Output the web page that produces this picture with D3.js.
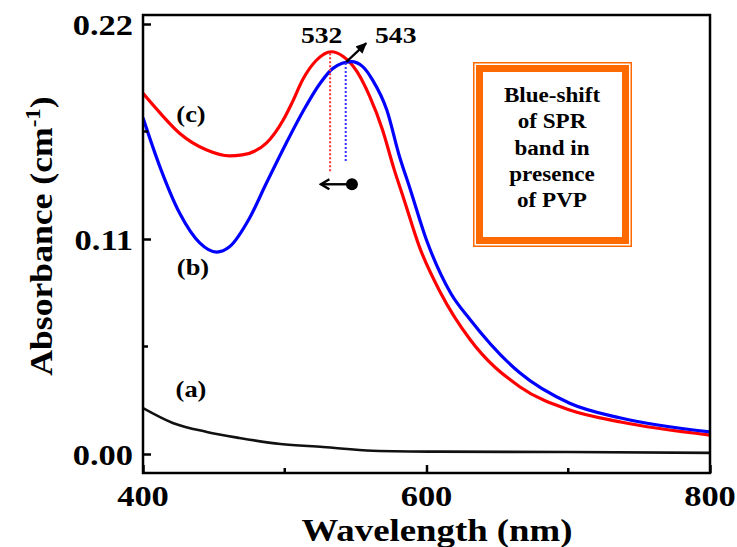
<!DOCTYPE html>
<html><head><meta charset="utf-8">
<script src="https://cdn.jsdelivr.net/npm/d3@7"></script>
<style>body{margin:0;background:#fff}svg{display:block}text{font-family:"Liberation Serif","Times New Roman",serif;font-weight:bold}</style>
</head><body><svg id="c" width="737" height="547"></svg>
<script>
const wlC=[400,412,426,445,461,470,487,499,505,513,522,533,541,551,560,569,577,584,595,610,631,666,701,737,800];
const absC=[0.1845,0.1745,0.164,0.1555,0.1525,0.153,0.159,0.171,0.1795,0.192,0.2012,0.2058,0.2035,0.1956,0.1828,0.1658,0.146,0.1305,0.106,0.0824,0.0583,0.0343,0.0225,0.0164,0.0097];
const wlB=[400,412,426,440,452,461,475,487,501,513,525,534,547,555,562,572,581,588,600,617,631,666,701,737,800];
const absB=[0.172,0.1468,0.123,0.108,0.1033,0.106,0.1205,0.1385,0.159,0.1755,0.1897,0.1973,0.2007,0.1982,0.1913,0.176,0.1521,0.1366,0.1095,0.0824,0.0686,0.0414,0.026,0.0184,0.0113];
const wlA=[400,421,445,468,497,527,562,609,700,800];
const absA=[0.0235,0.0159,0.0113,0.0082,0.0051,0.0036,0.0017,0.0012,0.0010,0.0006];
const xTicks=[400,600,800], xMinor=[500,700];
const yTicks=[0.00,0.11,0.22], yMinor=[0.055,0.165];
const peaks=[532,543];
const boxLines=["Blue-shift","of SPR","band in","presence","of PVP"];

const svg=d3.select("#c");
const L=143,R=710,T=15,B=473;
const x=d3.scaleLinear().domain([400,800]).range([L,R]);
const y=d3.scaleLinear().domain([0,0.11]).range([454,239]);

function txt(px,py,s,size,anchor,sx){
  return svg.append("text").attr("transform",`translate(${px},${py}) scale(${sx||1.15},1)`)
    .attr("text-anchor",anchor||"middle").attr("font-size",size).text(s);
}

// curves
const line=d3.line().x(d=>x(d[0])).y(d=>y(d[1])).curve(d3.curveMonotoneX);
svg.append("clipPath").attr("id","cp").append("rect").attr("x",L).attr("y",T).attr("width",R-L).attr("height",B-T);
const g=svg.append("g").attr("clip-path","url(#cp)");
g.append("path").datum(d3.zip(wlA,absA)).attr("d",line).attr("fill","none").attr("stroke","#111").attr("stroke-width",2.6);
g.append("path").datum(d3.zip(wlC,absC)).attr("d",line).attr("fill","none").attr("stroke","#f00").attr("stroke-width",3.2);
g.append("path").datum(d3.zip(wlB,absB)).attr("d",line).attr("fill","none").attr("stroke","#0000ff").attr("stroke-width",3.2);

// dotted peak lines
svg.append("line").attr("x1",x(peaks[0])).attr("x2",x(peaks[0])).attr("y1",y(0.205)).attr("y2",y(0.1443))
  .attr("stroke","#f33").attr("stroke-width",2).attr("stroke-dasharray","2,2");
svg.append("line").attr("x1",x(peaks[1])).attr("x2",x(peaks[1])).attr("y1",y(0.200)).attr("y2",y(0.1489))
  .attr("stroke","#33f").attr("stroke-width",2).attr("stroke-dasharray","2,2");

// frame
svg.append("rect").attr("x",L).attr("y",T).attr("width",R-L).attr("height",B-T).attr("fill","none").attr("stroke","#000").attr("stroke-width",2.5);
// axes ticks (inward)
const xa=d3.axisBottom(x).tickValues(xTicks).tickSize(-8).tickFormat(d3.format("d"));
const gx=svg.append("g").attr("transform",`translate(0,${B})`).call(xa);
gx.select(".domain").remove();
gx.selectAll(".tick line").attr("stroke-width",2.5);
gx.selectAll(".tick text").remove();
xMinor.forEach(v=>svg.append("line").attr("x1",x(v)).attr("x2",x(v)).attr("y1",B).attr("y2",B-5).attr("stroke","#000").attr("stroke-width",2.5));
const ya=d3.axisLeft(y).tickValues(yTicks).tickSize(-8).tickFormat(d3.format(".2f"));
const gy=svg.append("g").attr("transform",`translate(${L},0)`).call(ya);
gy.select(".domain").remove();
gy.selectAll(".tick line").attr("stroke-width",2.5);
gy.selectAll(".tick text").remove();
yMinor.forEach(v=>svg.append("line").attr("x1",L).attr("x2",L+5).attr("y1",y(v)).attr("y2",y(v)).attr("stroke","#000").attr("stroke-width",2.5));

xTicks.forEach(v=>txt(x(v),506,d3.format("d")(v),30,"middle"));
yTicks.forEach(v=>txt(133,y(v)+11,d3.format(".2f")(v),30,"end"));

// axis titles
txt(437,541,"Wavelength (nm)",32,"middle");
const yl=svg.append("text").attr("transform","translate(52,236) rotate(-90) scale(1.15,1)").attr("text-anchor","middle").attr("font-size",31);
yl.append("tspan").text("Absorbance (cm");
yl.append("tspan").attr("font-size",20).attr("dy",-12).text("-1");
yl.append("tspan").attr("dy",12).text(")");

// curve labels
txt(191,122,"(c)",23,"middle");
txt(193,275,"(b)",23,"middle");
txt(191,397,"(a)",23,"middle");

// peak labels
txt(x(526),43,String(peaks[0]),24,"middle");
txt(x(563.7),43,String(peaks[1]),24,"start");

// arrows
const defs=svg.append("defs");
defs.append("marker").attr("id","tri").attr("viewBox","0 0 12 12").attr("refX",11).attr("refY",6)
  .attr("markerWidth",11).attr("markerHeight",11).attr("orient","auto").attr("markerUnits","userSpaceOnUse")
  .append("path").attr("d","M0,0.5L12,6L0,11.5z").attr("fill","#000");
defs.append("marker").attr("id","chev").attr("viewBox","0 0 12 12").attr("refX",10.5).attr("refY",6)
  .attr("markerWidth",12).attr("markerHeight",12).attr("orient","auto").attr("markerUnits","userSpaceOnUse")
  .append("path").attr("d","M2,1L10.5,6L2,11").attr("fill","none").attr("stroke","#000").attr("stroke-width",2.4);
svg.append("line").attr("x1",x(543.5)).attr("y1",y(0.2006)).attr("x2",x(557.5)).attr("y2",y(0.2102))
  .attr("stroke","#000").attr("stroke-width",2.2).attr("marker-end","url(#tri)");
svg.append("line").attr("x1",x(547.4)).attr("y1",y(0.138)).attr("x2",x(525.5)).attr("y2",y(0.138))
  .attr("stroke","#000").attr("stroke-width",2.4).attr("marker-end","url(#chev)");
svg.append("circle").attr("cx",x(547.4)).attr("cy",y(0.138)).attr("r",6).attr("fill","#000");

// box
const bx=473,by=62,bw=159,bh=185,orange="#ff6a00";
svg.append("rect").attr("x",bx+0.75).attr("y",by+0.75).attr("width",bw-1.5).attr("height",bh-1.5).attr("fill","#fff").attr("stroke",orange).attr("stroke-width",1.5);
svg.append("rect").attr("x",bx+6.5).attr("y",by+6.5).attr("width",bw-13).attr("height",bh-13).attr("fill","none").attr("stroke",orange).attr("stroke-width",7);
boxLines.forEach((s,i)=>txt(552,102+i*26.3,s,22,"middle",1.05));
</script></body></html>
